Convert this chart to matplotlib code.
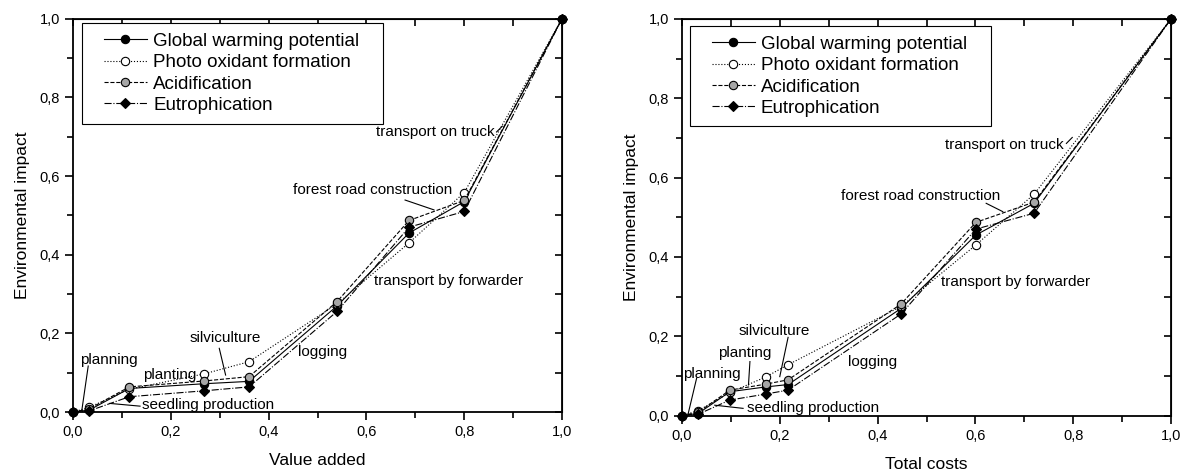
import matplotlib
matplotlib.use('Agg')
import matplotlib.pyplot as plt
from matplotlib.patches import Rectangle
from matplotlib.ticker import MultipleLocator, FuncFormatter

plt.rcParams['font.family'] = ['Liberation Sans', 'DejaVu Sans']

# cumulative shares along the process chain
value_added = [0, 0.033, 0.115, 0.268, 0.36, 0.54, 0.687, 0.80, 1.0]
total_costs = [0, 0.033, 0.098, 0.171, 0.217, 0.448, 0.601, 0.720, 1.0]

gwp = [0, 0.005, 0.060, 0.072, 0.078, 0.270, 0.455, 0.535, 1.0]
photo = [0, 0.012, 0.058, 0.097, 0.128, 0.275, 0.430, 0.558, 1.0]
acid = [0, 0.008, 0.064, 0.079, 0.090, 0.281, 0.487, 0.538, 1.0]
eutro = [0, 0.003, 0.039, 0.054, 0.064, 0.256, 0.470, 0.510, 1.0]

series_names = ['Global warming potential', 'Photo oxidant formation',
                'Acidification', 'Eutrophication']

# annotation text, text position, leader line (or None)
notes_left = [
    ('planning', (0.074, 0.132), ((0.031, 0.117), (0.018, 0.005))),
    ('seedling production', (0.277, 0.018), ((0.137, 0.015), (0.075, 0.022))),
    ('planting', (0.198, 0.094), None),
    ('silviculture', (0.311, 0.188), ((0.299, 0.162), (0.312, 0.094))),
    ('logging', (0.510, 0.153), None),
    ('transport by forwarder', (0.768, 0.332), None),
    ('forest road construction', (0.612, 0.565), ((0.679, 0.539), (0.738, 0.514))),
    ('transport on truck', (0.740, 0.713), ((0.866, 0.712), (0.878, 0.727))),
]
notes_right = [
    ('planning', (0.062, 0.105), ((0.030, 0.094), (0.013, 0.006))),
    ('seedling production', (0.269, 0.020), ((0.125, 0.018), (0.067, 0.026))),
    ('planting', (0.129, 0.157), ((0.139, 0.136), (0.136, 0.077))),
    ('silviculture', (0.189, 0.213), ((0.217, 0.197), (0.200, 0.098))),
    ('logging', (0.390, 0.136), None),
    ('transport by forwarder', (0.683, 0.337), None),
    ('forest road construction', (0.487, 0.554), ((0.622, 0.535), (0.656, 0.514))),
    ('transport on truck', (0.660, 0.682), ((0.786, 0.686), (0.798, 0.701))),
]

styles = [
    dict(ls='-', marker='o', mfc='black', mec='black', ms=6),
    dict(ls=':', marker='o', mfc='white', mec='black', ms=6),
    dict(ls='--', marker='o', mfc='#a6a6a6', mec='black', ms=6),
    dict(ls='-.', marker='D', mfc='black', mec='black', ms=5),
]

comma = FuncFormatter(lambda v, p: ('%.1f' % v).replace('.', ','))

fig = plt.figure(figsize=(11.86, 4.72), dpi=100)
ax1 = fig.add_axes([0.0616, 0.127, 0.4123, 0.8334])
ax2 = fig.add_axes([0.575, 0.1197, 0.4124, 0.8403])


def draw_panel(ax, xs, xlabel, notes, legbox):
    for ys, name, st in zip([gwp, photo, acid, eutro], series_names, styles):
        ax.plot(xs, ys, color='black', lw=0.8, label=name, clip_on=False,
                mew=0.8, **st)
    for txt, pos, line in notes:
        ax.text(pos[0], pos[1], txt, fontsize=11, ha='center', va='center')
        if line is not None:
            ax.plot([line[0][0], line[1][0]], [line[0][1], line[1][1]],
                    color='black', lw=0.8)
    ax.set_xlim(0, 1)
    ax.set_ylim(0, 1)
    ax.xaxis.set_major_locator(MultipleLocator(0.2))
    ax.xaxis.set_minor_locator(MultipleLocator(0.1))
    ax.yaxis.set_major_locator(MultipleLocator(0.2))
    ax.yaxis.set_minor_locator(MultipleLocator(0.1))
    ax.xaxis.set_major_formatter(comma)
    ax.yaxis.set_major_formatter(comma)
    ax.tick_params(which='both', direction='out', width=1.2, labelsize=10.5,
                   top=False, right=False)
    ax.tick_params(which='major', length=6)
    ax.tick_params(which='minor', length=4)
    for s in ax.spines.values():
        s.set_linewidth(1.3)
    # mirrored inward ticks on top and right
    tx = ax.secondary_xaxis('top')
    tx.xaxis.set_major_locator(MultipleLocator(0.1))
    tx.tick_params(direction='in', length=5, width=1.2, labelsize=0)
    tx.set_xticklabels([])
    ty = ax.secondary_yaxis('right')
    ty.yaxis.set_major_locator(MultipleLocator(0.1))
    ty.tick_params(direction='in', length=5, width=1.2, labelsize=0)
    ty.set_yticklabels([])
    ax.set_xlabel(xlabel, fontsize=12.5, labelpad=10)
    ax.set_ylabel('Environmental impact', fontsize=12.5, labelpad=7)
    # legend frame drawn separately, entries sit a bit further in
    x0, y0, w, h = legbox
    ax.add_patch(Rectangle((x0, y0), w, h, transform=ax.transAxes,
                           facecolor='white', edgecolor='black', lw=0.8,
                           zorder=4))
    leg = ax.legend(loc='upper left', bbox_to_anchor=(x0 + 0.024, y0 + h),
                    fontsize=13.5, numpoints=1, handlelength=2.3,
                    handletextpad=0.32, labelspacing=0.22, borderpad=0.55,
                    borderaxespad=0, frameon=False)
    leg.set_zorder(5)


draw_panel(ax1, value_added, 'Value added', notes_left, (0.018, 0.733, 0.616, 0.257))
draw_panel(ax2, total_costs, 'Total costs', notes_right, (0.016, 0.729, 0.616, 0.254))

fig.savefig('out.png', dpi=100)
